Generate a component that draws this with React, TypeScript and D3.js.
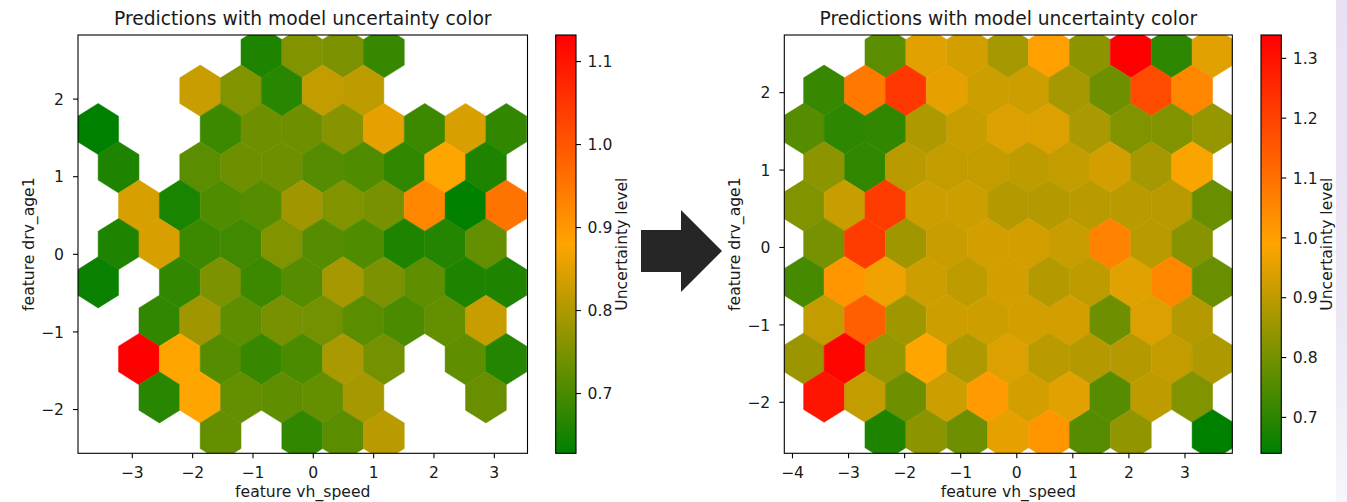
import React from 'react';
import * as d3 from 'd3';

const N = null;

// Mean uncertainty per hex cell, rows listed top to bottom.
// Even rows: 11 cells on lattice 1; odd rows: 10 cells on lattice 2 (offset by half a cell).
const leftValues: (number | null)[][] = [
  [N, N, N, N, 0.658, 0.756, 0.752, 0.682, N, N, N],
  [N, N, 0.826, 0.756, 0.668, 0.821, 0.816, N, N, N],
  [0.628, N, N, 0.687, 0.737, 0.737, 0.761, 0.855, 0.687, 0.84, 0.677],
  [0.658, N, 0.717, 0.737, 0.737, 0.712, 0.707, 0.677, 0.88, 0.658],
  [N, 0.84, 0.653, 0.707, 0.712, 0.786, 0.756, 0.747, 0.926, 0.63, 0.956],
  [0.658, 0.84, 0.687, 0.692, 0.756, 0.712, 0.707, 0.658, 0.663, 0.727],
  [0.638, N, 0.677, 0.752, 0.687, 0.712, 0.791, 0.752, 0.722, 0.658, 0.658],
  [N, 0.677, 0.786, 0.722, 0.747, 0.742, 0.717, 0.702, 0.727, 0.826],
  [N, 1.132, 0.88, 0.712, 0.682, 0.702, 0.796, 0.742, N, 0.722, 0.663],
  [N, 0.668, 0.88, 0.727, 0.722, 0.727, 0.791, N, N, 0.732],
  [N, N, N, 0.727, N, 0.677, 0.717, 0.811, N, N, N],
];

const rightValues: (number | null)[][] = [
  [N, N, 0.763, 0.948, 0.928, 0.866, 1.0, 0.832, 1.339, 0.702, 0.948],
  [0.715, 1.085, 1.223, 0.955, 0.921, 0.921, 0.866, 0.791, 1.18, 1.053],
  [0.757, 0.702, 0.709, 0.88, 0.914, 0.942, 0.942, 0.873, 0.818, 0.818, 0.846],
  [0.832, 0.709, 0.894, 0.907, 0.907, 0.9, 0.907, 0.928, 0.866, 0.983],
  [0.818, 0.914, 1.212, 0.921, 0.921, 0.887, 0.887, 0.894, 0.894, 0.894, 0.784],
  [0.805, 1.212, 0.859, 0.914, 0.928, 0.928, 0.914, 1.064, 0.894, 0.825],
  [0.736, 1.021, 0.969, 0.921, 0.9, 0.928, 0.887, 0.9, 0.948, 1.053, 0.784],
  [0.907, 1.138, 0.859, 0.921, 0.921, 0.928, 0.928, 0.791, 0.942, 0.887],
  [0.852, 1.328, 0.846, 0.99, 0.88, 0.942, 0.894, 0.887, 0.887, 0.907, 0.88],
  [1.297, 0.907, 0.791, 0.921, 1.011, 0.928, 0.948, 0.757, 0.9, 0.818],
  [N, N, 0.681, 0.832, 0.791, 0.955, 1.021, 0.757, 0.839, N, 0.64],
];

const leftXTicks = [-3, -2, -1, 0, 1, 2, 3];
const leftYTicks = [-2, -1, 0, 1, 2];
const leftCbTicks = [0.7, 0.8, 0.9, 1.0, 1.1];
const rightXTicks = [-4, -3, -2, -1, 0, 1, 2, 3];
const rightYTicks = [-2, -1, 0, 1, 2];
const rightCbTicks = [0.7, 0.8, 0.9, 1.0, 1.1, 1.2, 1.3];

// axis limits (data units)
const leftXDomain = [-3.9, 3.55];
const leftYDomain = [-2.564, 2.826];
const rightXDomain = [-4.146, 3.844];
const rightYDomain = [-2.659, 2.745];

// hexbin lattice extents [xmin, xmax, ymin, ymax] and gridsize
const leftHexExtent = [-3.566, 3.199, -2.338, 2.603];
const rightHexExtent = [-3.801, 3.492, -2.423, 2.522];
const gridNx = 10;
const gridNy = 5;

const TITLE = 'Predictions with model uncertainty color';
const XLABEL = 'feature vh_speed';
const YLABEL = 'feature drv_age1';
const CBLABEL = 'Uncertainty level';

const FONT = 'DejaVu Sans, Liberation Sans, sans-serif';
const FS = 15.6;
const TXT = '#1a1a1a';

const fmtTick = (v: number) => (v < 0 ? '\u2212' + Math.abs(v) : String(v));

type PanelProps = {
  id: string;
  values: (number | null)[][];
  xDomain: number[];
  yDomain: number[];
  hexExtent: number[];
  xTicks: number[];
  yTicks: number[];
  cbTicks: number[];
  ax: { x0: number; x1: number; y0: number; y1: number };
  cb: { x0: number; x1: number };
};

function Panel(p: PanelProps) {
  const { ax, cb } = p;
  const x = d3.scaleLinear().domain(p.xDomain).range([ax.x0, ax.x1]);
  const y = d3.scaleLinear().domain(p.yDomain).range([ax.y1, ax.y0]);
  const all = p.values.flat().filter((v): v is number => v != null);
  const [vmin, vmax] = d3.extent(all) as [number, number];
  const color = d3
    .scaleLinear<string>()
    .domain([vmin, (vmin + vmax) / 2, vmax])
    .range(['#008000', '#ffa500', '#ff0000'])
    .interpolate(d3.interpolateRgb);

  const [xmin, xmax, ymin, ymax] = p.hexExtent;
  const sx = (xmax - xmin) / gridNx;
  const sy = (ymax - ymin) / gridNy;
  const offs = [
    [0.5, -0.5],
    [0.5, 0.5],
    [0, 1],
    [-0.5, 0.5],
    [-0.5, -0.5],
    [0, -1],
  ].map(([a, b]) => [a * sx, (b * sy) / 3]);

  const hexes: { d: string; c: string; key: string }[] = [];
  p.values.forEach((row, r) => {
    const even = r % 2 === 0;
    row.forEach((v, k) => {
      if (v == null) return;
      let cx: number, cy: number;
      if (even) {
        const j = gridNy - r / 2;
        cx = xmin + k * sx;
        cy = ymin + j * sy;
      } else {
        const j = gridNy - 1 - (r - 1) / 2;
        cx = xmin + (k + 0.5) * sx;
        cy = ymin + (j + 0.5) * sy;
      }
      const pts = offs.map(([dx, dy]) => [x(cx + dx), y(cy + dy)] as [number, number]);
      const d = 'M' + pts.map((q) => q[0].toFixed(2) + ',' + q[1].toFixed(2)).join('L') + 'Z';
      hexes.push({ d, c: color(v), key: r + '-' + k });
    });
  });

  const cbScale = d3.scaleLinear().domain([vmin, vmax]).range([ax.y1, ax.y0]);
  const midX = (ax.x0 + ax.x1) / 2;
  const midY = (ax.y0 + ax.y1) / 2;
  const gradId = p.id + '-grad';
  const clipId = p.id + '-clip';
  const ylabX = ax.x0 - 44;
  const cblabX = cb.x1 + 51;

  return (
    <g>
      <defs>
        <clipPath id={clipId}>
          <rect x={ax.x0} y={ax.y0} width={ax.x1 - ax.x0} height={ax.y1 - ax.y0} />
        </clipPath>
        <linearGradient id={gradId} x1="0" y1="1" x2="0" y2="0">
          <stop offset="0" stopColor="#008000" />
          <stop offset="0.5" stopColor="#ffa500" />
          <stop offset="1" stopColor="#ff0000" />
        </linearGradient>
      </defs>
      <text x={midX} y={25} textAnchor="middle" fontSize={18.7} fontFamily={FONT} fill={TXT}>
        {TITLE}
      </text>
      <g clipPath={`url(#${clipId})`}>
        {hexes.map((h) => (
          <path key={h.key} d={h.d} fill={h.c} stroke={h.c} strokeWidth={0.5} />
        ))}
      </g>
      <rect
        x={ax.x0}
        y={ax.y0}
        width={ax.x1 - ax.x0}
        height={ax.y1 - ax.y0}
        fill="none"
        stroke="#000"
        strokeWidth={1.1}
      />
      {p.xTicks.map((t) => (
        <g key={'x' + t}>
          <line x1={x(t)} x2={x(t)} y1={ax.y1} y2={ax.y1 + 5} stroke="#000" strokeWidth={1.1} />
          <text x={x(t)} y={477.5} textAnchor="middle" fontSize={FS} fontFamily={FONT} fill={TXT}>
            {fmtTick(t)}
          </text>
        </g>
      ))}
      {p.yTicks.map((t) => (
        <g key={'y' + t}>
          <line x1={ax.x0 - 5} x2={ax.x0} y1={y(t)} y2={y(t)} stroke="#000" strokeWidth={1.1} />
          <text x={ax.x0 - 14} y={y(t) + 5.7} textAnchor="end" fontSize={FS} fontFamily={FONT} fill={TXT}>
            {fmtTick(t)}
          </text>
        </g>
      ))}
      <text x={midX} y={497} textAnchor="middle" fontSize={FS} fontFamily={FONT} fill={TXT}>
        {XLABEL}
      </text>
      <text
        x={ylabX}
        y={midY}
        transform={`rotate(-90 ${ylabX} ${midY})`}
        textAnchor="middle"
        fontSize={FS}
        fontFamily={FONT}
        fill={TXT}
      >
        {YLABEL}
      </text>
      {/* colorbar */}
      <rect x={cb.x0} y={ax.y0} width={cb.x1 - cb.x0} height={ax.y1 - ax.y0} fill={`url(#${gradId})`} />
      <rect
        x={cb.x0}
        y={ax.y0}
        width={cb.x1 - cb.x0}
        height={ax.y1 - ax.y0}
        fill="none"
        stroke="#000"
        strokeWidth={1.1}
      />
      {p.cbTicks.map((t) => (
        <g key={'c' + t}>
          <line x1={cb.x1} x2={cb.x1 + 5} y1={cbScale(t)} y2={cbScale(t)} stroke="#000" strokeWidth={1.1} />
          <text x={cb.x1 + 11.5} y={cbScale(t) + 5.7} fontSize={FS} fontFamily={FONT} fill={TXT}>
            {t.toFixed(1)}
          </text>
        </g>
      ))}
      <text
        x={cblabX}
        y={midY}
        transform={`rotate(-90 ${cblabX} ${midY})`}
        textAnchor="middle"
        fontSize={FS}
        fontFamily={FONT}
        fill={TXT}
      >
        {CBLABEL}
      </text>
    </g>
  );
}

export default function App() {
  return (
    <svg
      width={1347}
      height={502}
      viewBox="0 0 1347 502"
      style={{ position: 'absolute', left: 0, top: 0, display: 'block', background: '#fff' }}
    >
      <defs>
        <linearGradient id="edge-band" x1="0" y1="0" x2="0" y2="1">
          <stop offset="0" stopColor="#e8e1f3" />
          <stop offset="0.6" stopColor="#ece6f5" />
          <stop offset="1" stopColor="#f7f5fb" />
        </linearGradient>
      </defs>
      <rect x={0} y={0} width={1347} height={502} fill="#fff" />
      <rect x={1336} y={0} width={11} height={502} fill="url(#edge-band)" />
      <Panel
        id="left"
        values={leftValues}
        xDomain={leftXDomain}
        yDomain={leftYDomain}
        hexExtent={leftHexExtent}
        xTicks={leftXTicks}
        yTicks={leftYTicks}
        cbTicks={leftCbTicks}
        ax={{ x0: 78, x1: 527.5, y0: 35, y1: 453.3 }}
        cb={{ x0: 555.7, x1: 576 }}
      />
      <Panel
        id="right"
        values={rightValues}
        xDomain={rightXDomain}
        yDomain={rightYDomain}
        hexExtent={rightHexExtent}
        xTicks={rightXTicks}
        yTicks={rightYTicks}
        cbTicks={rightCbTicks}
        ax={{ x0: 784.3, x1: 1232.3, y0: 35, y1: 453.3 }}
        cb={{ x0: 1261, x1: 1281.3 }}
      />
      {/* transition arrow */}
      <polygon points="641,230 681,230 681,210 722,251 681,292 681,272 641,272" fill="#262626" />
    </svg>
  );
}
